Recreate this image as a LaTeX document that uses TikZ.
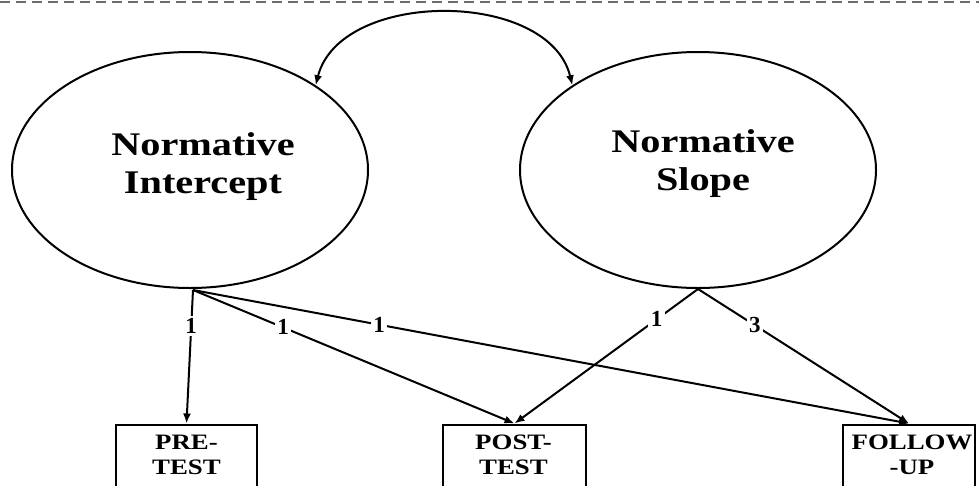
\documentclass[tikz,border=0pt]{standalone}
\usepackage{graphicx}
\usepackage{fontspec}
\setmainfont{Liberation Serif}
\usetikzlibrary{shapes.geometric,arrows.meta}
\newcommand{\wx}[1]{\scalebox{1.22}[1]{#1}}
\begin{document}
\begin{tikzpicture}[x=1pt,y=-1pt,
  ell/.style={ellipse, draw, line width=2pt, minimum width=356pt, minimum height=236pt, inner sep=0pt},
  etxt/.style={font=\fontsize{33}{38}\selectfont\bfseries, align=center, inner sep=0pt},
  box/.style={draw, line width=2pt, minimum height=75pt, inner sep=0pt},
  btxt/.style={font=\fontsize{22}{25}\selectfont\bfseries, align=center, inner sep=0pt},
  tip/.tip={Latex[length=10pt,width=8pt]},
  conn/.style={line width=2pt, -tip},
  lab/.style={fill=white, inner sep=2.5pt, font=\fontsize{23}{23}\selectfont\bfseries}]
\useasboundingbox (0,0) rectangle (979,485);
\clip (0,0) rectangle (979,485);
\draw[gray!85!black, line width=2.5pt, dash pattern=on 10pt off 6pt] (0,2) -- (979,2);
% latent factors
\node[ell] (L) at (190,170) {};
\node[ell] (R) at (698,170) {};
\node[etxt] (Lt) at (203,166.5) {\wx{Normative}\\\wx{Intercept}};
\node[etxt] (Rt) at (703,164) {\wx{Normative}\\\wx{Slope}};
% covariance
\draw[line width=2pt, tip-tip]
  (L.34) .. controls (340,-11) and (549,-11) .. (R.146);
% observed
\node[box, minimum width=141pt] (pre) at (186.5,462) {};
\node[box, minimum width=143pt] (post) at (514.5,462) {};
\node[box, minimum width=132pt] (fol) at (909,462) {};
\node[btxt] (pret) at (186.5,455) {\wx{PRE-}\\\wx{TEST}};
\node[btxt] (postt) at (513.5,455) {\wx{POST-}\\\wx{TEST}};
\node[btxt] (folt) at (912,455) {\wx{FOLLOW}\\\wx{-UP}};
% loadings
\coordinate (ls) at (193,290);
\draw[conn] (ls) -- (pre.north) node[lab,pos=0.27] {1};
\draw[conn] (ls) -- (post.north) node[lab,pos=0.28] {1};
\draw[conn] (ls) -- (fol.north) node[lab,pos=0.26] {1};
\draw[conn] (R.south) -- (post.north) node[lab,pos=0.225] {1};
\draw[conn] (R.south) -- (fol.north) node[lab,pos=0.27] {3};
\end{tikzpicture}
\end{document}
